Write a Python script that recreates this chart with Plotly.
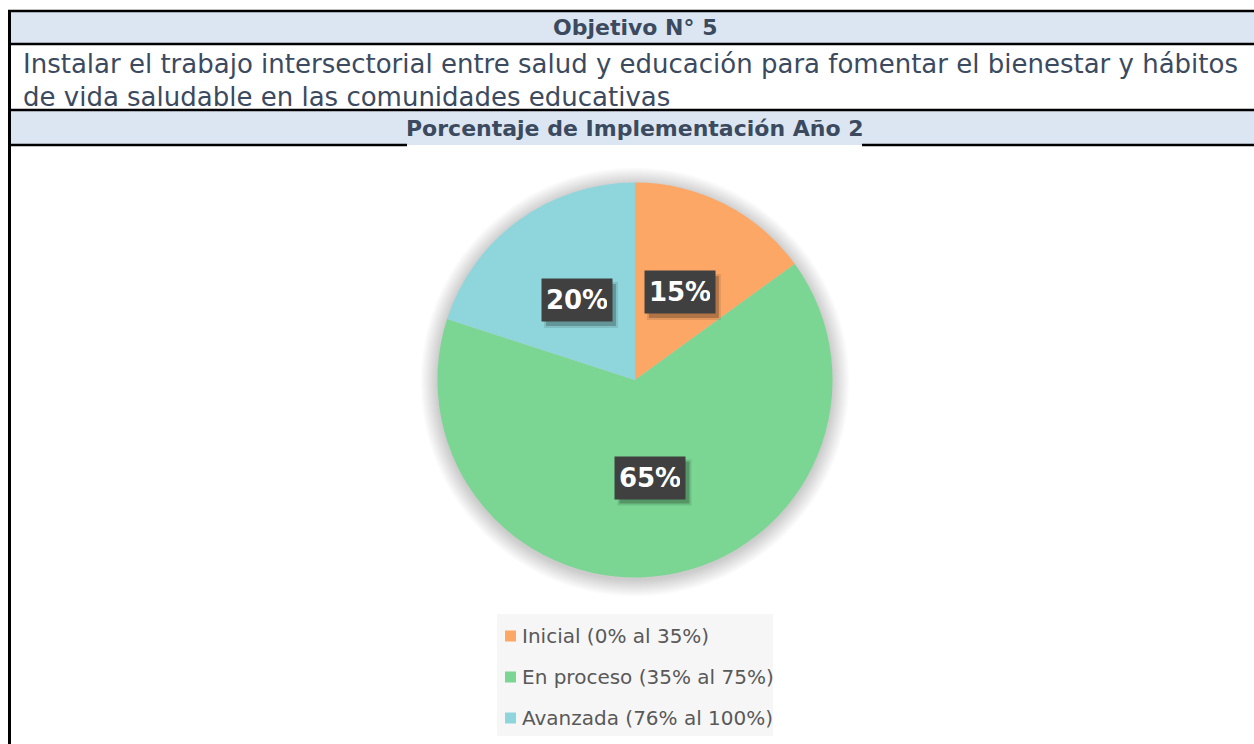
import math
import plotly.graph_objects as go

W, H = 1254, 744

categories = ["Inicial (0% al 35%)", "En proceso (35% al 75%)", "Avanzada (76% al 100%)"]
values = [15, 65, 20]
colors = ["#FCA766", "#7AD692", "#8FD6DC"]

title1 = "Objetivo N° 5"
objective_lines = [
    "Instalar el trabajo intersectorial entre salud y educación para fomentar el bienestar y hábitos",
    "de vida saludable en las comunidades educativas",
]
title2 = "Porcentaje de Implementación Año 2"

FONT = "DejaVu Sans"
TXT = "#3B4A5E"

def px(x):
    return x / W

def py(y):
    return 1 - y / H

cx, cy, r = 635, 380, 197.5

fig = go.Figure()
fig.add_trace(go.Pie(
    labels=categories, values=values, marker=dict(colors=colors, line=dict(width=0)),
    sort=False, direction="clockwise", rotation=0, textinfo="none", hoverinfo="label+percent",
    domain=dict(x=[px(cx - r), px(cx + r)], y=[py(cy + r), py(cy - r)]),
    showlegend=False,
))

shapes = []
# table header bands
for y0, y1 in [(11, 44), (110, 145)]:
    shapes.append(dict(type="rect", xref="paper", yref="paper", x0=px(10), x1=1, y0=py(y1), y1=py(y0),
                       fillcolor="#DCE6F2", line=dict(width=0), layer="below"))
# pie shadow
for k in range(1, 18):
    R = r + k
    shapes.append(dict(type="circle", xref="paper", yref="paper",
                       x0=px(cx - R), x1=px(cx + R), y0=py(cy + 2 + R), y1=py(cy + 2 - R),
                       fillcolor="rgba(0,0,0,0.011)", line=dict(width=0), layer="below"))
# table lines
for y in [11, 44, 110]:
    shapes.append(dict(type="line", xref="paper", yref="paper", x0=px(8), x1=1, y0=py(y), y1=py(y),
                       line=dict(color="black", width=2.5)))
shapes.append(dict(type="line", xref="paper", yref="paper", x0=px(8), x1=px(407), y0=py(145), y1=py(145),
                   line=dict(color="black", width=2.5)))
shapes.append(dict(type="line", xref="paper", yref="paper", x0=px(862), x1=1, y0=py(145), y1=py(145),
                   line=dict(color="black", width=2.5)))
shapes.append(dict(type="line", xref="paper", yref="paper", x0=px(9.5), x1=px(9.5), y0=0, y1=py(10),
                   line=dict(color="black", width=3)))
# legend background
shapes.append(dict(type="rect", xref="paper", yref="paper", x0=px(497), x1=px(773), y0=py(736), y1=py(614),
                   fillcolor="#F6F6F6", line=dict(width=0), layer="below"))

def ann(x, y, text, size, color, xanchor="center", **kw):
    return dict(x=px(x), y=py(y), xref="paper", yref="paper", text=text, showarrow=False,
                xanchor=xanchor, yanchor="middle", font=dict(family=FONT, size=size, color=color), **kw)

annotations = []
annotations.append(ann(635, 28, "<b>%s</b>" % title1, 22, TXT))
for i, line in enumerate(objective_lines):
    annotations.append(ann(21, 64 + 33 * i, line, 26, TXT, xanchor="left"))
annotations.append(ann(635, 128, "<b>%s</b>" % title2, 22, TXT))

# data labels
total = sum(values)
cum = 0
for v in values:
    mid = (cum + v / 2) / total * 2 * math.pi
    cum += v
    lx = cx + 0.5 * r * math.sin(mid)
    ly = cy - 0.5 * r * math.cos(mid)
    txt = "<b>%d%%</b>" % round(v / total * 100)
    # soft shadow behind the label box
    for k, op in [(0, 0.22), (2, 0.10)]:
        shapes.append(dict(type="rect", xref="paper", yref="paper",
                           x0=px(lx - 35 + 4 - k), x1=px(lx + 35 + 4 + k),
                           y0=py(ly + 21 + 5 + k), y1=py(ly - 21 + 5 - k),
                           fillcolor="rgba(0,0,0,%s)" % op, line=dict(width=0)))
    annotations.append(ann(lx, ly, txt, 26, "white", bgcolor="#404040", borderpad=5, width=60, height=32))

# legend
for i, (c, lab) in enumerate(zip(colors, categories)):
    y = 636 + 41 * i
    shapes.append(dict(type="rect", xref="paper", yref="paper", x0=px(505), x1=px(516), y0=py(y + 5.5), y1=py(y - 5.5),
                       fillcolor=c, line=dict(width=0)))
    annotations.append(ann(520, y, lab, 20, "#595959", xanchor="left"))

fig.update_layout(width=W, height=H, margin=dict(l=0, r=0, t=0, b=0), paper_bgcolor="white",
                  plot_bgcolor="white", shapes=shapes, annotations=annotations, showlegend=False)
fig.write_html("out.html", config={"displayModeBar": False},
               post_script="document.body.style.margin='0';document.body.style.overflow='hidden';")
